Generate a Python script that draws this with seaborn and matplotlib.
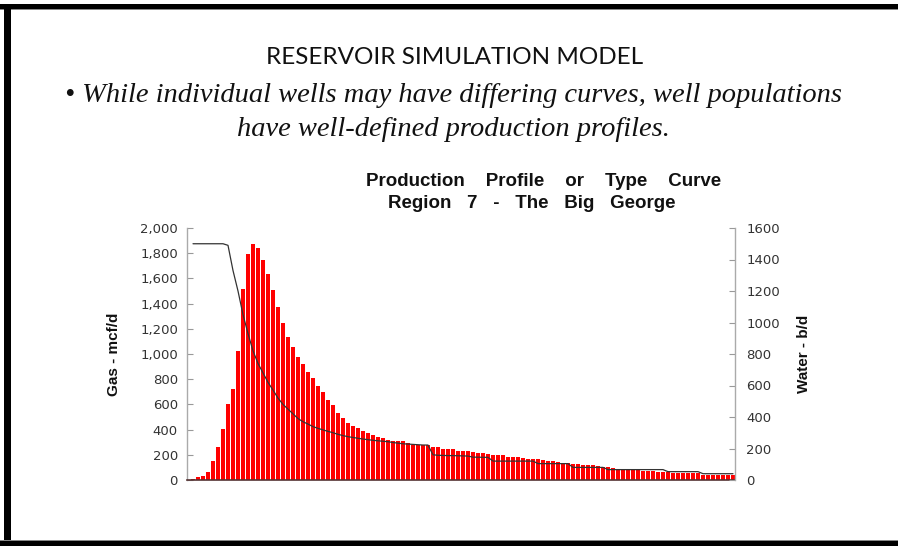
import numpy as np
import pandas as pd
import matplotlib
matplotlib.use("Agg")
import matplotlib.pyplot as plt
from matplotlib.patches import Rectangle
import seaborn as sns

# Monthly type-curve rates, one value per month
gas_rate = [
    5, 20, 35, 65, 150, 260, 405, 600, 725, 1020,
    1515, 1790, 1870, 1845, 1745, 1635, 1510, 1375, 1245, 1135,
    1055, 980, 920, 860, 810, 745, 700, 635, 595, 535,
    490, 455, 430, 410, 390, 375, 357, 345, 330, 317,
    312, 310, 308, 290, 280, 278, 278, 275, 260, 260,
    245, 245, 243, 232, 230, 228, 220, 213, 212, 210,
    198, 198, 195, 182, 180, 180, 175, 165, 165, 165,
    155, 148, 148, 140, 135, 135, 130, 125, 122, 118,
    116, 110, 105, 100, 95, 85, 80, 80, 80, 80,
    75, 70, 68, 66, 66, 64, 55, 53, 53, 52,
    52, 52, 42, 40, 40, 40, 38, 38, 38,
]
water_rate = [
    1500, 1500, 1500, 1500, 1500, 1500, 1500, 1490, 1330, 1200,
    1050, 930, 820, 740, 680, 620, 571, 520, 480, 450,
    420, 390, 370, 355, 339, 328, 318, 309, 300, 290,
    282, 275, 270, 265, 260, 256, 252, 249, 246, 243,
    238, 234, 230, 228, 226, 224, 222, 222, 160, 157,
    156, 155, 155, 154, 153, 152, 145, 145, 144, 144,
    120, 120, 120, 120, 120, 120, 120, 120, 120, 104,
    104, 104, 104, 104, 104, 104, 80, 80, 80, 80,
    80, 80, 80, 66, 66, 66, 66, 66, 66, 66,
    66, 66, 66, 66, 66, 53, 53, 53, 53, 53,
    53, 53, 40, 40, 40, 40, 40, 40, 40,
]
month = list(range(1, len(gas_rate) + 1))

gas_ticks = [0, 200, 400, 600, 800, 1000, 1200, 1400, 1600, 1800, 2000]
water_ticks = [0, 200, 400, 600, 800, 1000, 1200, 1400, 1600]

heading = "RESERVOIR SIMULATION MODEL"
bullet_line1 = "\u2022 While individual wells may have differing curves, well populations"
bullet_line2 = "have well-defined production profiles."
chart_title1 = "Production    Profile    or    Type    Curve"
chart_title2 = "Region   7   -   The   Big   George"
gas_label = "Gas - mcf/d"
water_label = "Water - b/d"

sns.set_theme(style="white")
plt.rcParams["font.family"] = ["DejaVu Sans"]

W, H = 898, 546
fig = plt.figure(figsize=(W / 100, H / 100), dpi=100)
fig.patch.set_facecolor("white")


def fx(px):
    return px / W


def fy(py):
    return 1 - py / H


# slide frame
fig.add_artist(Rectangle((0, fy(9)), 1, 5 / H, transform=fig.transFigure,
                         facecolor="black", edgecolor="none"))
fig.add_artist(Rectangle((0, fy(10)), 1, 1 / H, transform=fig.transFigure,
                         facecolor="#888888", edgecolor="none"))
fig.add_artist(Rectangle((fx(4), 0), 7 / W, fy(4), transform=fig.transFigure,
                         facecolor="black", edgecolor="none"))
fig.add_artist(Rectangle((0, 0), 1, 5 / H, transform=fig.transFigure,
                         facecolor="black", edgecolor="none"))
fig.add_artist(Rectangle((0, 5 / H), 1, 1 / H, transform=fig.transFigure,
                         facecolor="#888888", edgecolor="none"))

# slide text
fig.text(fx(455), fy(57), heading, ha="center", va="center",
         fontsize=17.5, family=["Lato", "DejaVu Sans"], color="#111111")
fig.text(fx(453), fy(95), bullet_line1, ha="center", va="center",
         fontsize=20.5, style="italic", family=["Liberation Serif", "DejaVu Serif"],
         color="#111111")
fig.text(fx(453), fy(130), bullet_line2, ha="center", va="center",
         fontsize=20.5, style="italic", family=["Liberation Serif", "DejaVu Serif"],
         color="#111111")

# chart titles
fig.text(fx(544), fy(182), chart_title1, ha="center", va="center",
         fontsize=13.5, fontweight="bold", family=["Liberation Sans", "DejaVu Sans"],
         color="#111111")
fig.text(fx(532), fy(204), chart_title2, ha="center", va="center",
         fontsize=13.5, fontweight="bold", family=["Liberation Sans", "DejaVu Sans"],
         color="#111111")

# axes
ax = fig.add_axes([fx(187), fy(480), (735 - 187) / W, (480 - 228) / H])
df = pd.DataFrame({"month": month, "gas": gas_rate, "water": water_rate,
                   "pos": np.arange(len(month))})
sns.barplot(data=df, x="month", y="gas", color="#ff0000", saturation=1,
            width=0.74, linewidth=0, ax=ax)
ax.set_xlim(-1.2, 108.4)
ax.set_ylim(0, 2000)
ax.set_yticks(gas_ticks)
ax.set_yticklabels([f"{v:,}" for v in gas_ticks])
ax.set_xticks([])
ax.set_xlabel("")
ax.set_ylabel(gas_label, fontsize=11, fontweight="bold",
              family=["Liberation Sans", "DejaVu Sans"], color="#111111")
ax.yaxis.set_label_coords((121 - 187) / 548, 0.5)
ax.tick_params(axis="y", left=True, direction="in", length=4, width=0.8,
               color="#999999", pad=6.5, labelsize=9.5, labelcolor="#333333")
for side in ["top", "right"]:
    ax.spines[side].set_visible(False)
ax.spines["left"].set_color("#aaaaaa")
ax.spines["left"].set_linewidth(1)
ax.spines["bottom"].set_color("#553333")
ax.spines["bottom"].set_linewidth(1.2)
ax.patch.set_alpha(0)

ax2 = ax.twinx()
sns.lineplot(data=df, x="pos", y="water", color="#333333", linewidth=0.9, ax=ax2)
ax2.set_xlim(-1.2, 108.4)
ax2.set_ylim(0, 1600)
ax2.set_yticks(water_ticks)
ax2.set_yticklabels([str(v) for v in water_ticks])
ax2.set_xlabel("")
ax2.set_ylabel(water_label, fontsize=11, fontweight="bold",
               family=["Liberation Sans", "DejaVu Sans"], color="#111111")
ax2.yaxis.set_label_coords((797 - 187) / 548, 0.5)
ax2.tick_params(axis="y", right=True, direction="in", length=4, width=0.8,
                color="#999999", pad=8, labelsize=9.5, labelcolor="#333333")
for side in ["top", "left", "bottom"]:
    ax2.spines[side].set_visible(False)
ax2.spines["right"].set_color("#aaaaaa")
ax2.spines["right"].set_linewidth(1)

fig.savefig("out.png", dpi=100, facecolor="white")
